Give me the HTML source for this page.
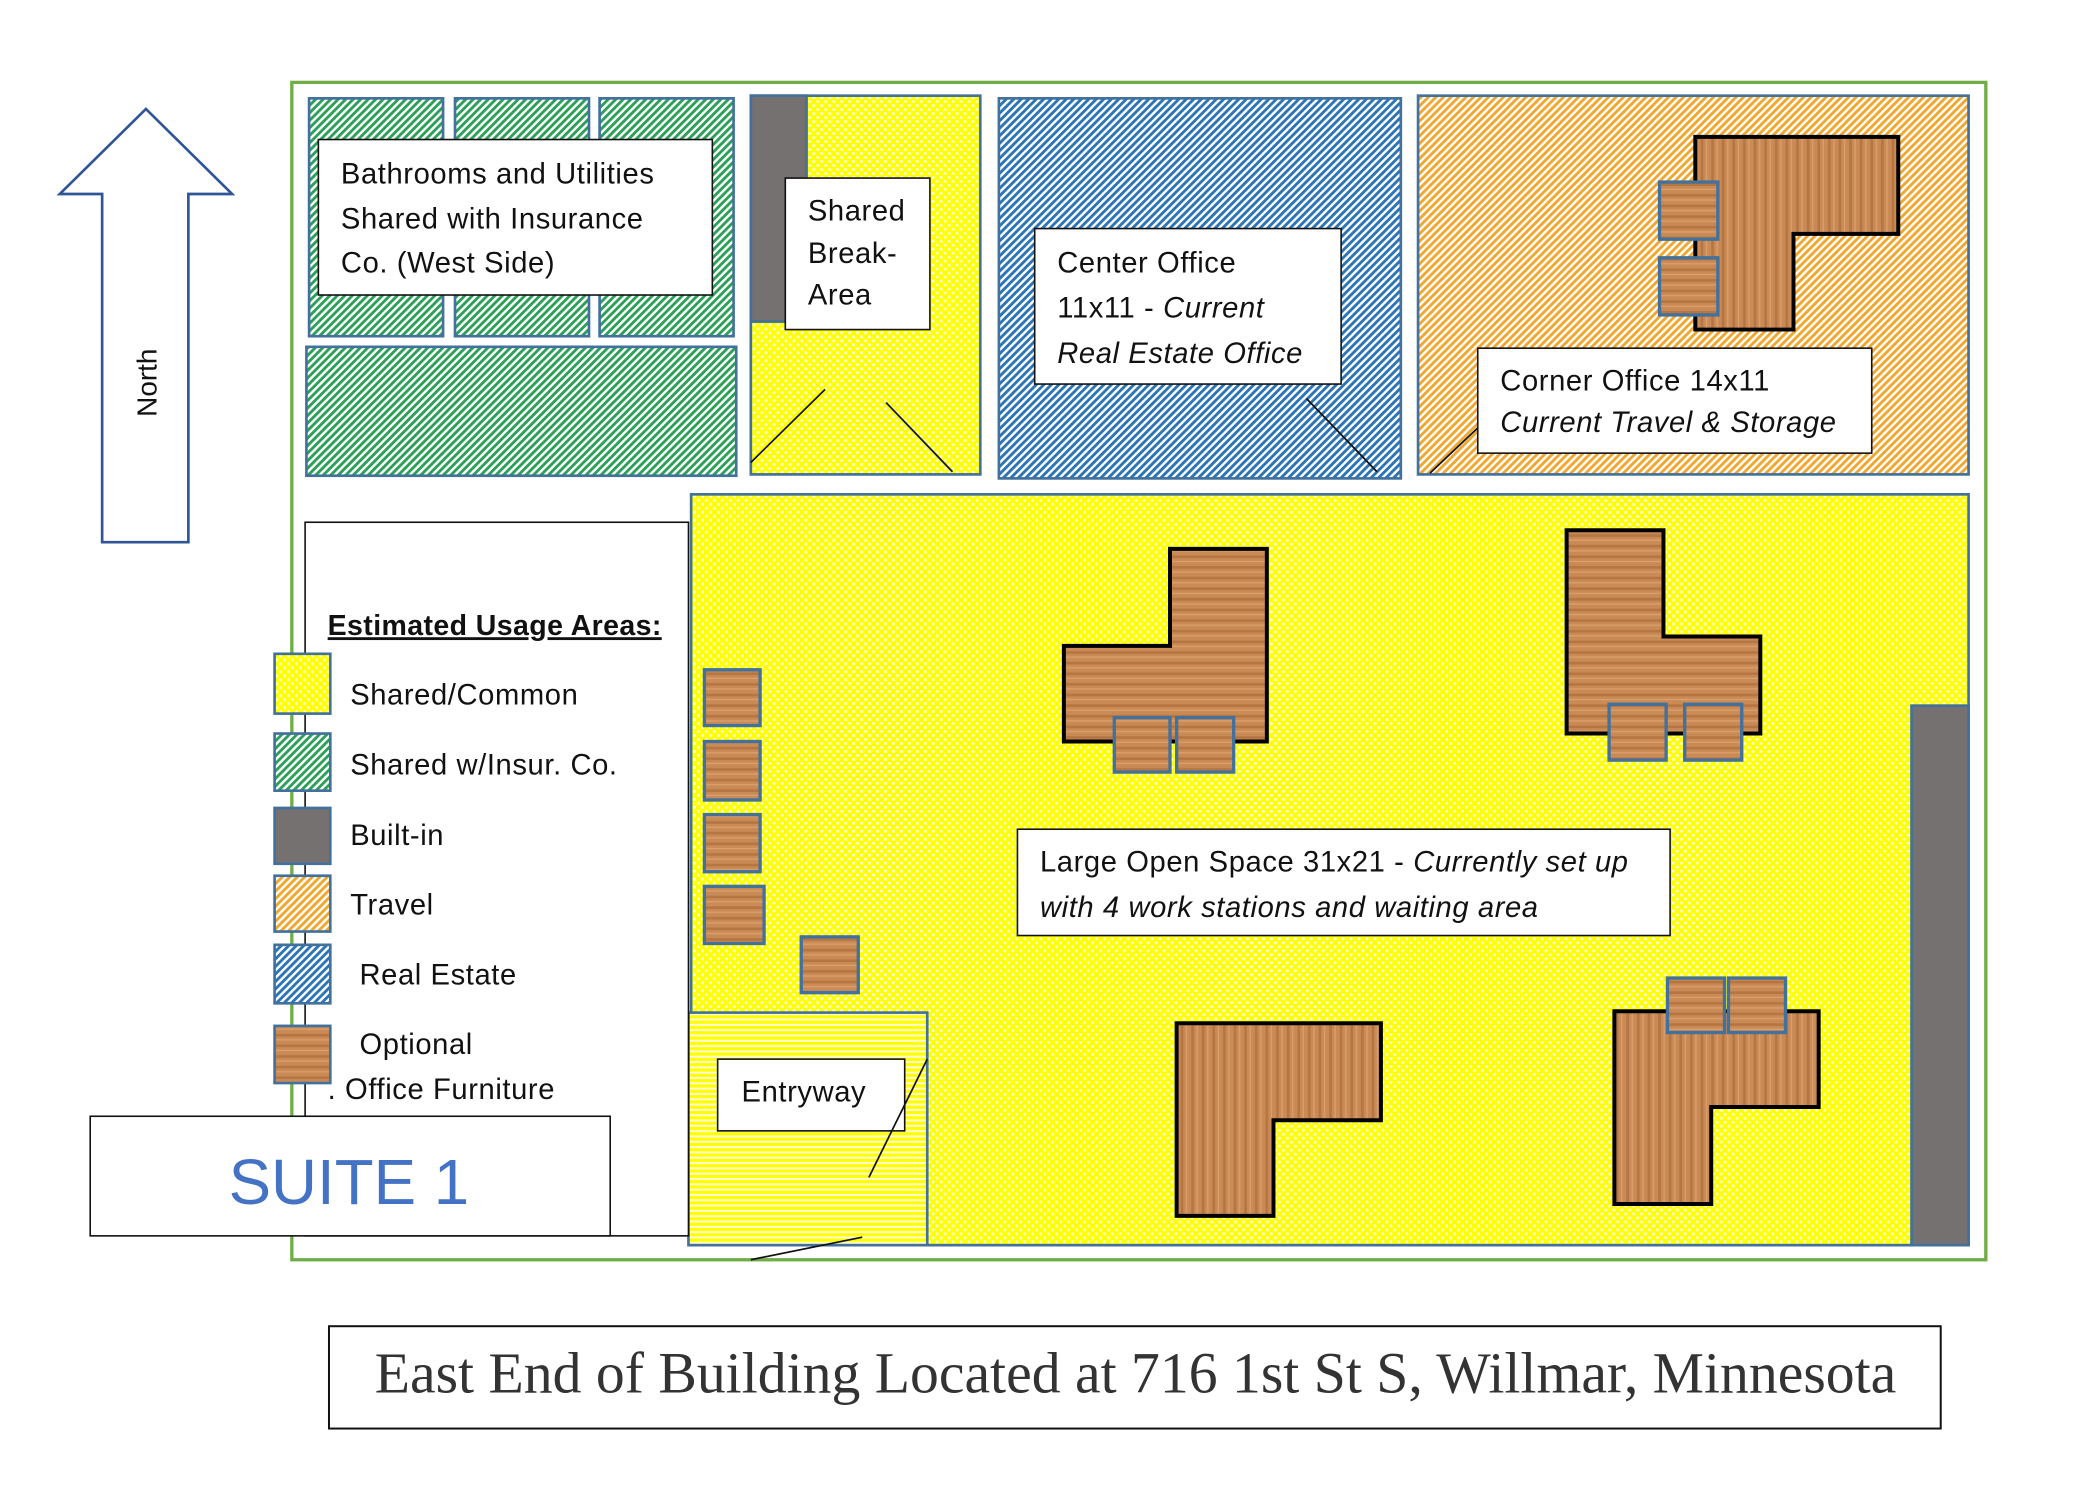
<!DOCTYPE html>
<html><head><meta charset="utf-8"><style>
html,body{margin:0;padding:0;background:#fff;}
svg{display:block;}
text{font-family:"Liberation Sans",sans-serif;fill:#111;}
.t{font-size:22px;letter-spacing:0.45px;}
</style></head><body>
<svg width="2080" height="1491" viewBox="0 0 1568 1122" preserveAspectRatio="none" xmlns="http://www.w3.org/2000/svg">
<defs>
<pattern id="dots" width="6" height="6" patternUnits="userSpaceOnUse">
<rect width="6" height="6" fill="#ffff00"/><circle cx="1.5" cy="1.5" r="1.2" fill="#fbfbc8"/><circle cx="4.5" cy="4.5" r="1.2" fill="#fbfbc8"/>
</pattern>
<pattern id="green" width="4" height="4" patternUnits="userSpaceOnUse" patternTransform="rotate(45)">
<rect width="4" height="4" fill="#fff"/><rect width="2.2" height="4" fill="#2ea05a"/>
</pattern>
<pattern id="blue" width="4" height="4" patternUnits="userSpaceOnUse" patternTransform="rotate(45)">
<rect width="4" height="4" fill="#fff"/><rect width="2.2" height="4" fill="#2e75b6"/>
</pattern>
<pattern id="orange" width="4" height="4" patternUnits="userSpaceOnUse" patternTransform="rotate(45)">
<rect width="4" height="4" fill="#fff"/><rect width="2.2" height="4" fill="#f0a830"/>
</pattern>
<pattern id="hstripe" width="4" height="4" patternUnits="userSpaceOnUse">
<rect width="4" height="4" fill="#fffbd0"/><rect width="4" height="2.4" fill="#ffff00"/>
</pattern>
<pattern id="woodv" width="8" height="8" patternUnits="userSpaceOnUse">
<rect width="8" height="8" fill="#c98a55"/><rect x="2" width="2" height="8" fill="#b67642"/><rect x="6" width="1" height="8" fill="#dba06c"/>
</pattern>
<pattern id="woodh" width="8" height="8" patternUnits="userSpaceOnUse">
<rect width="8" height="8" fill="#c98a55"/><rect y="2" width="8" height="2" fill="#b67642"/><rect y="6" width="8" height="1" fill="#dba06c"/>
</pattern>
</defs>

<rect x="220" y="62" width="1277" height="886" fill="#fff" stroke="#70ad47" stroke-width="2.5"/>

<polygon points="45,146 110,82 175,146 142,146 142,408 77,408 77,146" fill="#fff" stroke="#2f5597" stroke-width="2"/>
<text x="0" y="0" font-size="21" transform="translate(118,288) rotate(-90)" text-anchor="middle">North</text>

<g stroke="#41719c" stroke-width="2" fill="url(#green)">
<rect x="233" y="74" width="101" height="179"/>
<rect x="343" y="74" width="101" height="179"/>
<rect x="452" y="74" width="101" height="179"/>
<rect x="231" y="261" width="324" height="97"/>
</g>
<rect x="240" y="105" width="297" height="117" fill="#fff" stroke="#111" stroke-width="1.2"/>
<text class="t"><tspan x="257" y="138">Bathrooms and Utilities</tspan><tspan x="257" y="172">Shared with Insurance</tspan><tspan x="257" y="205">Co. (West Side)</tspan></text>

<rect x="566" y="72" width="173" height="285" fill="url(#dots)" stroke="#41719c" stroke-width="2"/>
<rect x="566" y="72" width="42" height="170" fill="#767171" stroke="#41719c" stroke-width="2"/>
<rect x="592" y="134" width="109" height="114" fill="#fff" stroke="#111" stroke-width="1.2"/>
<text class="t"><tspan x="609" y="166">Shared</tspan><tspan x="609" y="198">Break-</tspan><tspan x="609" y="229">Area</tspan></text>
<line x1="566" y1="348" x2="622" y2="293" stroke="#111" stroke-width="1.3"/>
<line x1="668" y1="303" x2="718" y2="355" stroke="#111" stroke-width="1.3"/>

<rect x="753" y="74" width="303" height="286" fill="url(#blue)" stroke="#41719c" stroke-width="2"/>
<rect x="780" y="172" width="231" height="117" fill="#fff" stroke="#111" stroke-width="1.2"/>
<text class="t"><tspan x="797" y="205">Center Office</tspan><tspan x="797" y="239">11x11 - <tspan font-style="italic">Current</tspan></tspan><tspan x="797" y="273" font-style="italic">Real Estate Office</tspan></text>
<line x1="985" y1="300" x2="1038" y2="355" stroke="#111" stroke-width="1.3"/>

<rect x="1069" y="72" width="415" height="285" fill="url(#orange)" stroke="#41719c" stroke-width="2"/>
<polygon points="1278,103 1431,103 1431,176 1352,176 1352,248 1278,248" fill="url(#woodv)" stroke="#000" stroke-width="3"/>
<rect x="1251" y="137" width="44" height="43" fill="url(#woodh)" stroke="#41719c" stroke-width="2.5"/>
<rect x="1251" y="194" width="44" height="43" fill="url(#woodh)" stroke="#41719c" stroke-width="2.5"/>
<rect x="1114" y="262" width="297" height="79" fill="#fff" stroke="#111" stroke-width="1.2"/>
<text class="t"><tspan x="1131" y="294">Corner Office 14x11</tspan><tspan x="1131" y="325" font-style="italic">Current Travel &amp; Storage</tspan></text>
<line x1="1078" y1="356" x2="1114" y2="322" stroke="#111" stroke-width="1.3"/>

<rect x="521" y="372" width="963" height="565" fill="url(#dots)" stroke="#41719c" stroke-width="2"/>
<rect x="1441" y="531" width="43" height="406" fill="#767171" stroke="#41719c" stroke-width="2"/>

<g stroke="#000" stroke-width="3">
<polygon points="882,413 955,413 955,558 802,558 802,486 882,486" fill="url(#woodh)"/>
<polygon points="1181,399 1254,399 1254,479 1327,479 1327,552 1181,552" fill="url(#woodh)"/>
<polygon points="887,770 1041,770 1041,843 960,843 960,915 887,915" fill="url(#woodv)"/>
<polygon points="1217,761 1371,761 1371,833 1290,833 1290,906 1217,906" fill="url(#woodv)"/>
</g>
<g stroke="#41719c" stroke-width="2.5" fill="url(#woodh)">
<rect x="840" y="540" width="42" height="41"/>
<rect x="887" y="540" width="43" height="41"/>
<rect x="1213" y="530" width="43" height="42"/>
<rect x="1270" y="530" width="43" height="42"/>
<rect x="1257" y="736" width="43" height="41"/>
<rect x="1303" y="736" width="43" height="41"/>
<rect x="531" y="504" width="42" height="42"/>
<rect x="531" y="558" width="42" height="44"/>
<rect x="531" y="613" width="42" height="43"/>
<rect x="531" y="667" width="45" height="43"/>
<rect x="604" y="705" width="43" height="42"/>
</g>

<rect x="767" y="624" width="492" height="80" fill="#fff" stroke="#111" stroke-width="1.2"/>
<text class="t"><tspan x="784" y="656">Large Open Space 31x21 - <tspan font-style="italic">Currently set up</tspan></tspan><tspan x="784" y="690" font-style="italic">with 4 work stations and waiting area</tspan></text>

<rect x="519" y="762" width="180" height="175" fill="url(#hstripe)" stroke="#41719c" stroke-width="2"/>
<rect x="541" y="797" width="141" height="54" fill="#fff" stroke="#111" stroke-width="1.2"/>
<text x="559" y="829" class="t">Entryway</text>
<line x1="655" y1="886" x2="699" y2="797" stroke="#111" stroke-width="1.3"/>
<line x1="566" y1="948" x2="650" y2="931" stroke="#111" stroke-width="1.3"/>

<rect x="230" y="393" width="289" height="537" fill="#fff" stroke="#111" stroke-width="1.2"/>
<text x="247" y="478" font-size="21.5" font-weight="bold" text-decoration="underline" letter-spacing="0.3">Estimated Usage Areas:</text>
<rect x="207" y="492" width="42" height="45" fill="url(#dots)" stroke="#41719c" stroke-width="2"/>
<rect x="207" y="552" width="42" height="43" fill="url(#green)" stroke="#41719c" stroke-width="2"/>
<rect x="207" y="608" width="42" height="42" fill="#767171" stroke="#41719c" stroke-width="2"/>
<rect x="207" y="659" width="42" height="42" fill="url(#orange)" stroke="#41719c" stroke-width="2"/>
<rect x="207" y="711" width="42" height="44" fill="url(#blue)" stroke="#41719c" stroke-width="2"/>
<rect x="207" y="772" width="42" height="43" fill="url(#woodh)" stroke="#41719c" stroke-width="2"/>
<text class="t"><tspan x="264" y="530">Shared/Common</tspan><tspan x="264" y="583">Shared w/Insur. Co.</tspan><tspan x="264" y="636">Built-in</tspan><tspan x="264" y="688">Travel</tspan><tspan x="271" y="741">Real Estate</tspan><tspan x="271" y="793">Optional</tspan><tspan x="247" y="827">.  Office Furniture</tspan></text>

<rect x="68" y="840" width="392" height="90" fill="#fff" stroke="#111" stroke-width="1.2"/>
<text x="263" y="906" font-size="48" text-anchor="middle" style="fill:#4472c4">SUITE 1</text>

<rect x="248" y="998" width="1215" height="77" fill="#fff" stroke="#111" stroke-width="1.5"/>
<text x="856" y="1048" font-size="43.5" text-anchor="middle" style="font-family:'Liberation Serif',serif;fill:#333">East End of Building Located at 716 1st St S, Willmar, Minnesota</text>
</svg>
</body></html>
